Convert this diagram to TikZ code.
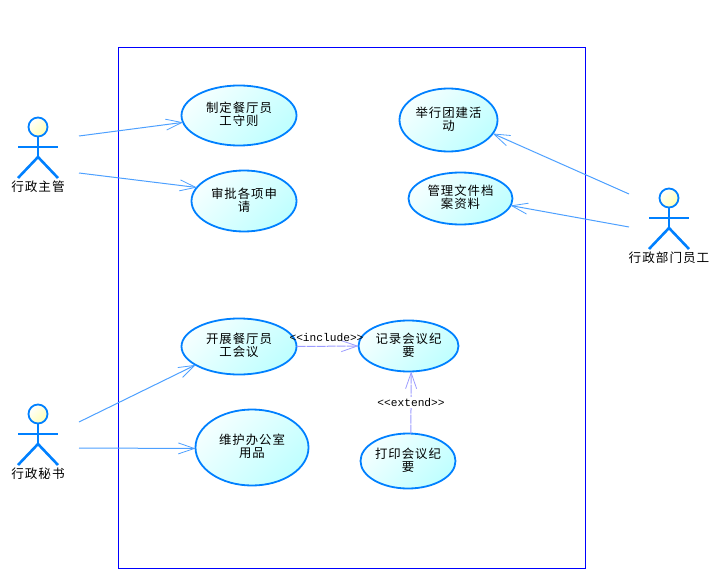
\documentclass[tikz,border=0pt]{standalone}
\usepackage{fontspec}
\newfontfamily\cjkfont[LetterSpace=8]{Noto Sans CJK SC}
\newfontfamily\stereofont{Liberation Mono}
\usetikzlibrary{arrows.meta,shapes.geometric}
\definecolor{umlblue}{HTML}{0080FF}
\definecolor{assocblue}{HTML}{4DA0FF}
\definecolor{deplilac}{HTML}{9C9CFF}
\tikzset{
    usecase/.style={ellipse, draw=umlblue, line width=1.8pt, inner sep=0pt, outer sep=0pt, align=center,
        top color=cyan!4, bottom color=cyan!25, shading angle=45, text depth=3pt,
        font=\cjkfont\fontsize{12.4}{13}\selectfont},
    actorlabel/.style={inner sep=0pt, font=\cjkfont\fontsize{12.6}{13}\selectfont},
    actorhead/.style={circle, draw=umlblue, line width=1.8pt, minimum size=19pt, inner sep=0pt, outer sep=0pt,
        top color=white, bottom color=yellow!30, shading angle=45},
    actorline/.style={draw=umlblue, line width=2.6pt},
    assoc/.style={draw=assocblue, line width=1pt, -{Straight Barb[length=16pt,width=11pt,line width=0.8pt]}},
    dep/.style={draw=deplilac, line width=1pt, dash pattern=on 9pt off 1pt,
        -{Straight Barb[length=16pt,width=11pt,line width=0.8pt]}},
    stereo/.style={inner sep=1pt, fill=white, font=\stereofont\fontsize{11.2}{12}\selectfont}
}
\begin{document}
\begin{tikzpicture}[x=1pt, y=-1pt]
        \useasboundingbox (0, 0) rectangle (719, 572);
        
        % system boundary
        \draw[blue, line width=1pt] (118, 47.5) rectangle (585, 568);
        
        % actors
        \foreach \name / \x / \y / \txt in {zhuguan/38/127/行政主管, mishu/38/414/行政秘书, yuangong/669/198/行政部门员工} {
            \node[actorhead] (\name-head) at (\x, \y) {};
            \draw[actorline] (\name-head.south) -- ++(0, 20.5) coordinate (\name-hip);
            \draw[actorline] ([yshift=-10.5pt]\name-head.south) ++(-20, 0) -- ++(40, 0);
            \draw[actorline] (\name-hip) -- ++(-20, 21);
            \draw[actorline] (\name-hip) -- ++(20, 21);
            \node[actorlabel] (\name-label) at (\x, \y + 59.5) {\txt};
        }
        
        % use cases
        \foreach \name / \x / \y / \w / \h / \txt in {
            zhiding/239/115.5/115/60/{制定餐厅员\\工守则},
            shenpi/244/201/105/61/{审批各项申\\请},
            juxing/448.5/120/98/63/{举行团建活\\动},
            guanli/460.5/198.5/104/52/{管理文件档\\案资料},
            kaizhan/239/346.5/115/56/{开展餐厅员\\工会议},
            weihu/252/447.5/113/76/{维护办公室\\用品},
            jilu/408.5/346/100/51/{记录会议纪\\要},
            dayin/408/461/95/55/{打印会议纪\\要}} {
            \node[usecase, minimum width=\w pt, minimum height=\h pt] (\name) at (\x, \y) {\txt};
        }
        
        % free ends next to the actors
        \foreach \name / \x / \y in {za/79/136, zb/79/173, ma/79/422, mb/79/448, ya/629/194, yb/629/227}
            \coordinate (\name) at (\x, \y);
        
        \foreach \a / \b in {za/zhiding.187.5, zb/shenpi.164, ma/kaizhan.203, mb/weihu.181.5, ya/juxing.-17, yb/guanli.-8}
            \path (\a) edge[assoc] (\b);
        
        \path (kaizhan.east) edge[dep] node[stereo, fill=none, yshift=9pt, xshift=-1pt] (includelabel) {<<include>>} (jilu.west);
        \path (dayin.84) edge[dep] node[stereo] (extendlabel) {<<extend>>} (jilu.-84.5);
        
    \end{tikzpicture}
\end{document}
